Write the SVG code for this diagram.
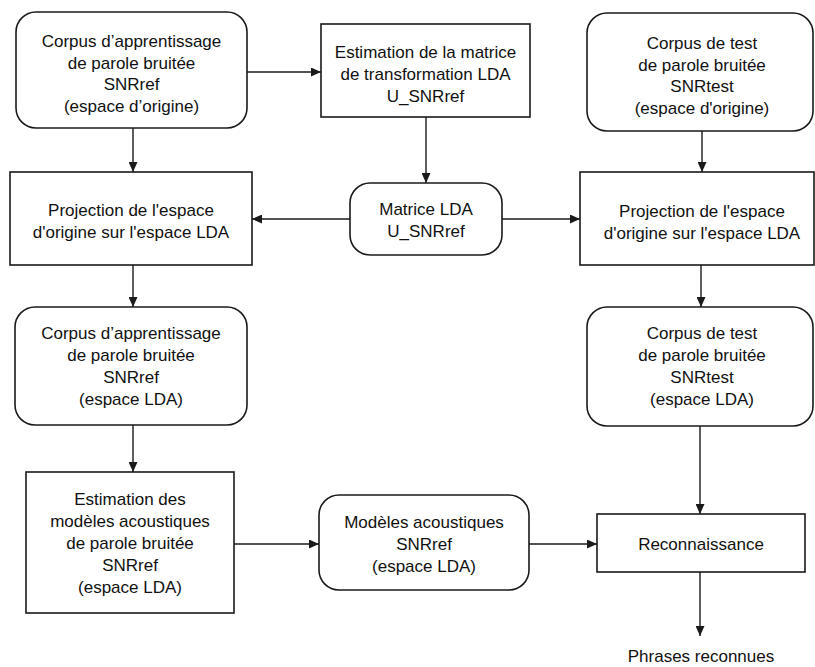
<svg xmlns="http://www.w3.org/2000/svg" width="815" height="667" viewBox="0 0 815 667">
<defs>
<style>
.box{fill:#fff;stroke:#1a1a1a;stroke-width:1.6}
.t{font-family:"Liberation Sans",Arial,Helvetica,sans-serif;font-size:17px;fill:#111;text-anchor:middle}
.c{stroke:#1a1a1a;stroke-width:1.4;fill:none;marker-end:url(#ah)}
</style>
<marker id="ah" markerUnits="userSpaceOnUse" markerWidth="10" markerHeight="9" refX="10" refY="4.5" orient="auto">
<path d="M0,0 L10,4.5 L0,9 Z" fill="#1a1a1a"/>
</marker>
</defs>
<rect width="815" height="667" fill="#fff"/>
<g id="connectors">
<line class="c" x1="247" y1="72" x2="321" y2="72"/>
<line class="c" x1="133" y1="128" x2="133" y2="172"/>
<line class="c" x1="426" y1="117" x2="426" y2="183"/>
<line class="c" x1="350" y1="219" x2="252" y2="219"/>
<line class="c" x1="502" y1="219" x2="580" y2="219"/>
<line class="c" x1="702" y1="131" x2="702" y2="172"/>
<line class="c" x1="133" y1="265" x2="133" y2="307"/>
<line class="c" x1="701" y1="265" x2="701" y2="307"/>
<line class="c" x1="133" y1="425" x2="133" y2="472"/>
<line class="c" x1="234" y1="544" x2="319" y2="544"/>
<line class="c" x1="700" y1="426" x2="700" y2="514"/>
<line class="c" x1="529" y1="544" x2="597" y2="544"/>
<line class="c" x1="700" y1="572" x2="700" y2="636"/>
</g>
<g id="n-corpus-app-orig">
<rect class="box" x="16" y="12" width="231" height="116" rx="20"/>
<text class="t" x="131.5" y="47">Corpus d’apprentissage</text>
<text class="t" x="131.5" y="68.5">de parole bruitée</text>
<text class="t" x="131.5" y="90">SNRref</text>
<text class="t" x="131.5" y="111.5">(espace d’origine)</text>
</g>
<g id="n-estim-lda">
<rect class="box" x="321" y="24" width="209" height="93"/>
<text class="t" x="425.5" y="57.5">Estimation de la matrice</text>
<text class="t" x="425.5" y="79.5">de transformation LDA</text>
<text class="t" x="425.5" y="101.5">U_SNRref</text>
</g>
<g id="n-corpus-test-orig">
<rect class="box" x="587" y="13" width="226" height="118" rx="20"/>
<text class="t" x="702" y="49">Corpus de test</text>
<text class="t" x="702" y="70.5">de parole bruitée</text>
<text class="t" x="702" y="92">SNRtest</text>
<text class="t" x="702" y="113.5">(espace d'origine)</text>
</g>
<g id="n-proj-left">
<rect class="box" x="10" y="172" width="242" height="93"/>
<text class="t" x="131" y="216">Projection de l'espace</text>
<text class="t" x="131" y="238">d'origine sur l'espace LDA</text>
</g>
<g id="n-matrice">
<rect class="box" x="350" y="183" width="152" height="72" rx="20"/>
<text class="t" x="426" y="215">Matrice LDA</text>
<text class="t" x="426" y="237">U_SNRref</text>
</g>
<g id="n-proj-right">
<rect class="box" x="580" y="172" width="234" height="93"/>
<text class="t" x="702" y="217">Projection de l'espace</text>
<text class="t" x="702" y="239">d'origine sur l'espace LDA</text>
</g>
<g id="n-corpus-app-lda">
<rect class="box" x="15" y="307" width="232" height="118" rx="20"/>
<text class="t" x="131" y="339">Corpus d’apprentissage</text>
<text class="t" x="131" y="361">de parole bruitée</text>
<text class="t" x="131" y="383">SNRref</text>
<text class="t" x="131" y="405">(espace LDA)</text>
</g>
<g id="n-corpus-test-lda">
<rect class="box" x="587" y="307" width="226" height="119" rx="20"/>
<text class="t" x="702" y="339">Corpus de test</text>
<text class="t" x="702" y="361">de parole bruitée</text>
<text class="t" x="702" y="383">SNRtest</text>
<text class="t" x="702" y="405">(espace LDA)</text>
</g>
<g id="n-estim-modeles">
<rect class="box" x="26" y="472" width="208" height="141"/>
<text class="t" x="130" y="505">Estimation des</text>
<text class="t" x="130" y="527">modèles acoustiques</text>
<text class="t" x="130" y="549">de parole bruitée</text>
<text class="t" x="130" y="571">SNRref</text>
<text class="t" x="130" y="593">(espace LDA)</text>
</g>
<g id="n-modeles">
<rect class="box" x="319" y="495" width="210" height="95" rx="20"/>
<text class="t" x="424" y="528">Modèles acoustiques</text>
<text class="t" x="424" y="550">SNRref</text>
<text class="t" x="424" y="572">(espace LDA)</text>
</g>
<g id="n-reconnaissance">
<rect class="box" x="597" y="514" width="208" height="58"/>
<text class="t" x="701" y="550">Reconnaissance</text>
</g>
<g id="n-phrases">
<text class="t" x="701" y="662">Phrases reconnues</text>
</g>
</svg>
